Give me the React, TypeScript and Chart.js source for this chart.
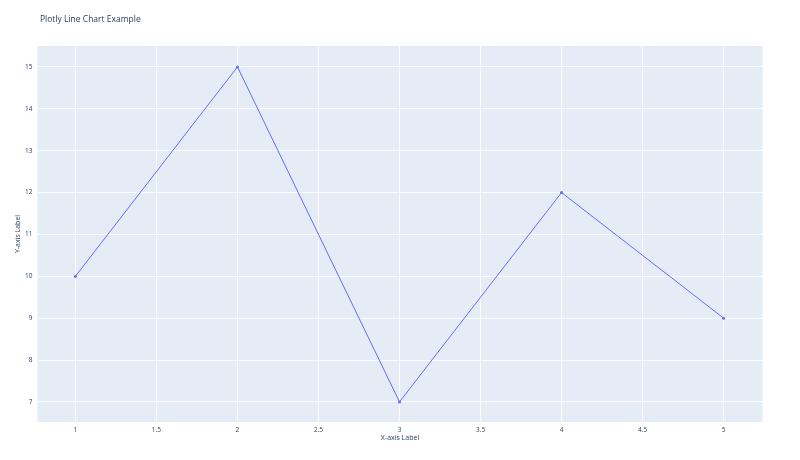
import React, { useEffect, useRef } from "react";
import { Chart, registerables } from "chart.js";

Chart.register(...registerables);

const titleText = "Plotly Line Chart Example";
const xAxisTitle = "X-axis Label";
const yAxisTitle = "Y-axis Label";
const xValues = [1, 2, 3, 4, 5];
const yValues = [10, 15, 7, 12, 9];
const xTicks = [1, 1.5, 2, 2.5, 3, 3.5, 4, 4.5, 5];
const yTicks = [7, 8, 9, 10, 11, 12, 13, 14, 15];

const TEXT = "#2a3f5f";
const FONT = "'Open Sans', Verdana, Arial, sans-serif";

export default function App() {
  const ref = useRef<HTMLCanvasElement | null>(null);
  useEffect(() => {
    if (!ref.current) return;
    const bgPlugin = {
      id: "plotBg",
      beforeDraw(chart: any) {
        const { ctx, chartArea } = chart;
        ctx.save();
        ctx.fillStyle = "#ffffff";
        ctx.fillRect(0, 0, chart.width, chart.height);
        ctx.fillStyle = "#e5ecf6";
        ctx.fillRect(chartArea.left, chartArea.top, chartArea.right - chartArea.left, chartArea.bottom - chartArea.top);
        ctx.restore();
      },
      afterDraw(chart: any) {
        const { ctx } = chart;
        ctx.save();
        ctx.fillStyle = TEXT;
        ctx.font = `8.5px ${FONT}`;
        ctx.textBaseline = "middle";
        ctx.textAlign = "left";
        ctx.fillText(titleText, 40, 20);
        ctx.restore();
      },
    };
    const chart = new Chart(ref.current, {
      type: "line",
      data: {
        datasets: [
          {
            data: xValues.map((x, i) => ({ x, y: yValues[i] })),
            borderColor: "#636efa",
            backgroundColor: "#636efa",
            borderWidth: 1,
            pointRadius: 1.5,
            pointHoverRadius: 1.5,
            pointBorderWidth: 0,
            tension: 0,
            fill: false,
          },
        ],
      },
      options: {
        responsive: false,
        animation: false,
        layout: { padding: { top: 46, right: 37.5, left: 0, bottom: 0 } },
        plugins: { legend: { display: false }, tooltip: { enabled: false }, title: { display: false } },
        scales: {
          x: {
            type: "linear",
            min: 0.766,
            max: 5.24,
            afterBuildTicks: (s: any) => {
              s.ticks = xTicks.map((v) => ({ value: v }));
            },
            afterFit: (s: any) => {
              s.height = 38;
            },
            grid: { color: "rgba(255,255,255,0.85)", lineWidth: 1, drawTicks: false },
            border: { display: false },
            ticks: {
              color: TEXT,
              font: { family: FONT, size: 6.5 },
              padding: 4,
              maxRotation: 0,
              autoSkip: false,
              callback: (v: any) => String(v),
            },
            title: { display: true, text: xAxisTitle, color: TEXT, font: { family: FONT, size: 7 }, padding: { top: 0, bottom: 17.8 } },
          },
          y: {
            type: "linear",
            min: 6.52,
            max: 15.5,
            afterBuildTicks: (s: any) => {
              s.ticks = yTicks.map((v) => ({ value: v }));
            },
            afterFit: (s: any) => {
              s.width = 37.5;
            },
            grid: { color: "rgba(255,255,255,0.85)", lineWidth: 1, drawTicks: false },
            border: { display: false },
            ticks: { color: TEXT, font: { family: FONT, size: 6.5 }, padding: 5, autoSkip: false, callback: (v: any) => String(v) },
            title: { display: true, text: yAxisTitle, color: TEXT, font: { family: FONT, size: 7 }, padding: { top: 13.8, bottom: 0 } },
          },
        },
      },
      plugins: [bgPlugin],
    });
    return () => chart.destroy();
  }, []);
  return (
    <div style={{ position: "absolute", left: 0, top: 0, width: 800, height: 460 }}>
      <canvas ref={ref} width={800} height={460} />
    </div>
  );
}
